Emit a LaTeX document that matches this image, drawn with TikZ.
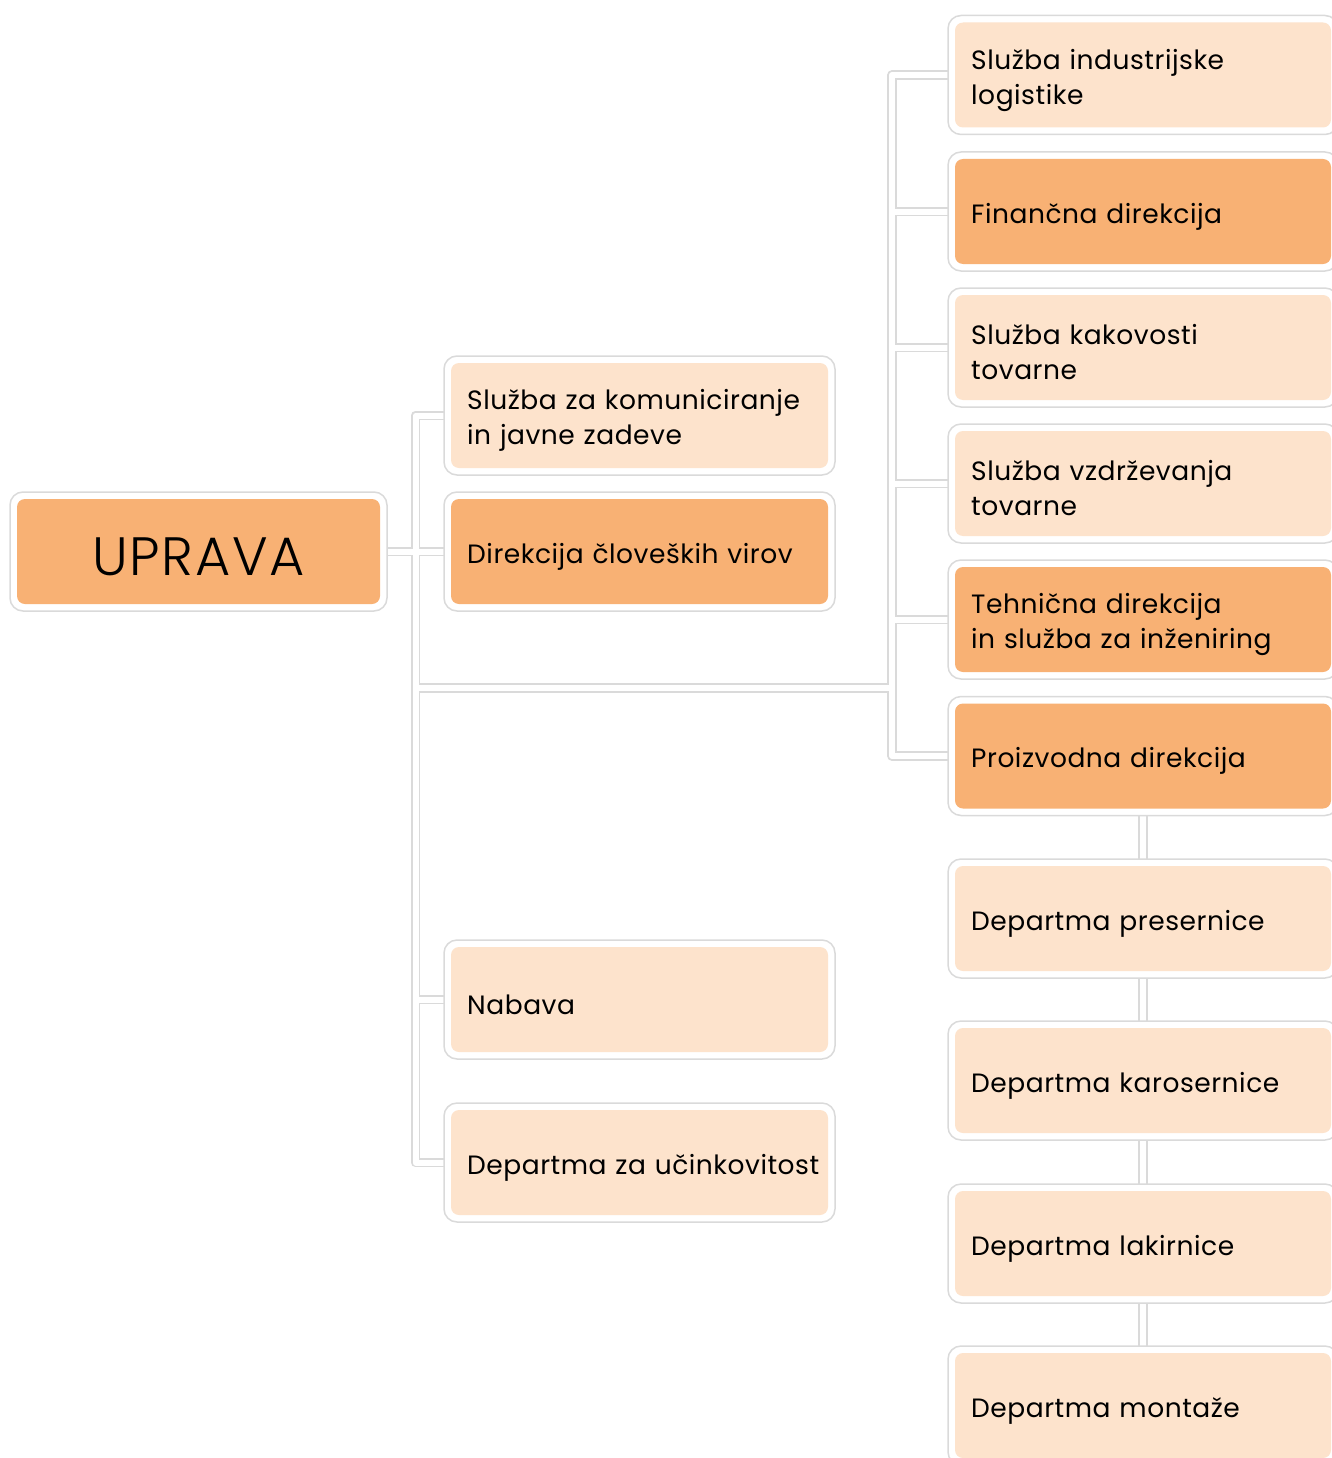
\documentclass[tikz,border=0pt]{standalone}
\usepackage{fontspec}
\setmainfont{Poppins}[LetterSpace=2]
\IfFontExistsTF{Poppins Light}{\newfontfamily\lightfont{Poppins Light}[LetterSpace=3]}{\newfontfamily\lightfont{Poppins}[LetterSpace=3]}
\usetikzlibrary{backgrounds}
\definecolor{darkfill}{RGB}{248,177,116}
\definecolor{lightfill}{RGB}{253,227,204}
\definecolor{edgegray}{RGB}{218,218,218}
\tikzset{
  frame/.style={draw=edgegray, line width=1.5pt, fill=white, rounded corners=13pt, inner sep=0pt, outer sep=0pt},
  inbox/.style={rounded corners=8pt, inner sep=0pt, outer sep=0pt},
  label text/.style={inner sep=0pt, align=left, text=black, anchor=west, font=\fontsize{26.5}{35}\selectfont},
  conbase/.style={draw=edgegray, line width=9.5pt, line join=round},
  concore/.style={draw=white, line width=6pt, line join=round}
}
% name, cx, cy, outer width, outer height, fill, text
\newcommand\orgbox[7]{%
  \node[frame, minimum width=#4pt, minimum height=#5pt] (#1) at (#2,#3) {};
  \node[inbox, fill=#6, minimum width={#4pt-14pt}, minimum height={#5pt-14pt}] (#1F) at (#2,#3) {};
  \node[label text, text width={#4pt-20pt}] (#1T) at ([xshift=16pt,yshift=-5pt]#1F.west) {#7};
}
\newcommand\drawconnectors[1]{%
  \draw[#1] (upr.east) -- (lt);
  \draw[#1] (lt) |- (kom.west);
  \draw[#1] (lt) |- (dir.west);
  \draw[#1] (lt) |- (nab.west);
  \draw[#1] (lt) |- (uci.west);
  \draw[#1] (lt) |- (rt);
  \draw[#1] (rt) |- (log.west);
  \draw[#1] (rt) |- (fin.west);
  \draw[#1] (rt) |- (kak.west);
  \draw[#1] (rt) |- (vzd.west);
  \draw[#1] (rt) |- (teh.west);
  \draw[#1] (rt) |- (pro.west);
  \draw[#1] (pro.south) -- (pre.north);
  \draw[#1] (pre.south) -- (kar.north);
  \draw[#1] (kar.south) -- (lak.north);
  \draw[#1] (lak.south) -- (mon.north);
}
\begin{document}
\begin{tikzpicture}[x=1pt,y=-1pt]
\useasboundingbox (0,0) rectangle (1331,1458);
% root
\node[frame, minimum width=377pt, minimum height=119pt] (upr) at (198.5,551.5) {};
\node[inbox, fill=darkfill, minimum width=363pt, minimum height=105pt] (uprF) at (198.5,551.5) {};
\node[inner sep=0pt, text=black, font=\lightfont\fontsize{54}{60}\selectfont] (uprT) at ([yshift=-5pt]uprF.center) {UPRAVA};
% middle column
\orgbox{kom}{639.5}{415.5}{391}{119}{lightfill}{Služba za komuniciranje\\in javne zadeve}
\orgbox{dir}{639.5}{551.5}{391}{119}{darkfill}{Direkcija človeških virov}
\orgbox{nab}{639.5}{999.5}{391}{119}{lightfill}{Nabava}
\orgbox{uci}{639.5}{1162.5}{391}{119}{lightfill}{Departma za učinkovitost}
% right column
\orgbox{log}{1143}{75}{390}{119}{lightfill}{Služba industrijske\\logistike}
\orgbox{fin}{1143}{211.5}{390}{119}{darkfill}{Finančna direkcija}
\orgbox{kak}{1143}{347.5}{390}{119}{lightfill}{Služba kakovosti\\tovarne}
\orgbox{vzd}{1143}{483.5}{390}{119}{lightfill}{Služba vzdrževanja\\tovarne}
\orgbox{teh}{1143}{619.5}{390}{119}{darkfill}{Tehnična direkcija\\in služba za inženiring}
\orgbox{pro}{1143}{756}{390}{119}{darkfill}{Proizvodna direkcija}
\orgbox{pre}{1143}{918.5}{390}{119}{lightfill}{Departma presernice}
\orgbox{kar}{1143}{1080.5}{390}{119}{lightfill}{Departma karosernice}
\orgbox{lak}{1143}{1243.5}{390}{119}{lightfill}{Departma lakirnice}
\orgbox{mon}{1143}{1405.5}{390}{119}{lightfill}{Departma montaže}
% junctions
\coordinate (lt) at (415.5,551.5);
\coordinate (rt) at (892,688);
\begin{pgfonlayer}{background}
\drawconnectors{conbase}
\drawconnectors{concore}
\end{pgfonlayer}
\end{tikzpicture}
\end{document}
